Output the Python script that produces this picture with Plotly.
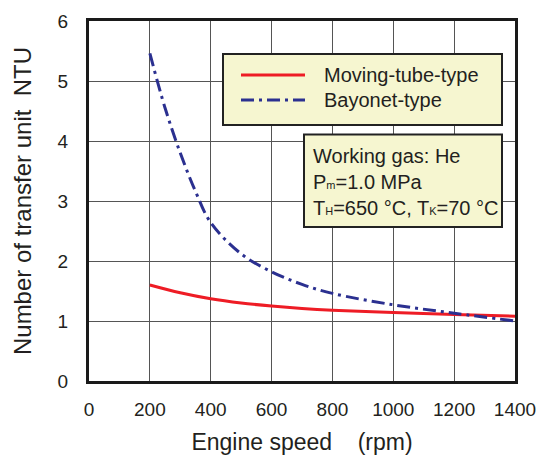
import plotly.graph_objects as go

# Engine speed (rpm) and number of transfer units for each heater type
speed_moving = [200, 300, 400, 500, 600, 700, 800, 1000, 1200, 1400]
ntu_moving = [1.60, 1.47, 1.37, 1.30, 1.25, 1.21, 1.18, 1.14, 1.11, 1.08]

speed_bayonet = [200, 250, 300, 350, 400, 500, 600, 700, 800, 1000, 1200, 1400]
ntu_bayonet = [5.46, 4.55, 3.80, 3.16, 2.64, 2.12, 1.82, 1.61, 1.46, 1.27, 1.13, 1.00]

x_ticks = [0, 200, 400, 600, 800, 1000, 1200, 1400]
y_ticks = [0, 1, 2, 3, 4, 5, 6]

series_names = ["Moving-tube-type", "Bayonet-type"]
SUB = '<span style="font-size:11px">{}</span>'
condition_lines = [
    "Working gas: He",
    "P" + SUB.format("m") + "=1.0 MPa",
    "T" + SUB.format("H") + "=650\u00a0\u00b0C, T" + SUB.format("K") + "=70\u00a0\u00b0C",
]

RED = "#ee1c25"
BLUE = "#2b3090"
DASHDOT = "13px,5px,3px,5px"
FONT = "Liberation Sans, Arial, sans-serif"
INK = "#231f20"
BOX_FILL = "#f6f6d0"

W, H = 541, 455
L, R, T, B = 89, 26, 21, 74
PW, PH = W - L - R, H - T - B


def px(x):
    return (x - L) / PW


def py(y):
    return (H - B - y) / PH


fig = go.Figure()
fig.add_trace(go.Scatter(
    x=speed_moving, y=ntu_moving, mode="lines", name=series_names[0],
    line=dict(color=RED, width=3, shape="spline", smoothing=1.0),
))
fig.add_trace(go.Scatter(
    x=speed_bayonet, y=ntu_bayonet, mode="lines", name=series_names[1],
    line=dict(color=BLUE, width=3, dash=DASHDOT, shape="spline", smoothing=1.0),
))

axis_common = dict(
    showgrid=True, gridcolor="#555555", gridwidth=1,
    showline=True, linecolor="#1a1a1a", linewidth=3, mirror=True,
    ticks="", zeroline=False,
    tickfont=dict(family=FONT, size=19, color=INK),
)

fig.update_xaxes(
    range=[0, 1400], tickvals=x_ticks, ticktext=[str(v) for v in x_ticks],
    ticklabelstandoff=9,
    title=dict(text="Engine speed\u00a0\u00a0\u00a0\u00a0(rpm)",
               font=dict(family=FONT, size=23, color=INK), standoff=16),
    **axis_common,
)
fig.update_yaxes(
    range=[0, 6], tickvals=y_ticks, ticktext=[str(v) for v in y_ticks],
    ticklabelstandoff=14,
    title=dict(text="Number of transfer unit\u00a0\u00a0NTU",
               font=dict(family=FONT, size=24, color=INK), standoff=20),
    **axis_common,
)

# Legend panel
shapes = [
    dict(type="rect", xref="paper", yref="paper",
         x0=px(223), x1=px(502), y0=py(125), y1=py(54),
         fillcolor=BOX_FILL, line=dict(color="#222222", width=2), layer="above"),
    dict(type="line", xref="paper", yref="paper",
         x0=px(241), x1=px(305), y0=py(75), y1=py(75),
         line=dict(color=RED, width=3), layer="above"),
    dict(type="line", xref="paper", yref="paper",
         x0=px(241), x1=px(305), y0=py(100), y1=py(100),
         line=dict(color=BLUE, width=3, dash=DASHDOT), layer="above"),
    # Operating conditions panel
    dict(type="rect", xref="paper", yref="paper",
         x0=px(304), x1=px(502), y0=py(227), y1=py(134.5),
         fillcolor=BOX_FILL, line=dict(color="#222222", width=2), layer="above"),
]

annotations = [
    dict(xref="paper", yref="paper", x=px(322), y=py(75), text=series_names[0],
         showarrow=False, xanchor="left", yanchor="middle",
         font=dict(family=FONT, size=20, color=INK)),
    dict(xref="paper", yref="paper", x=px(322), y=py(100), text=series_names[1],
         showarrow=False, xanchor="left", yanchor="middle",
         font=dict(family=FONT, size=20, color=INK)),
    dict(xref="paper", yref="paper", x=px(311), y=py(181.5),
         text="<br>".join(condition_lines), align="left",
         showarrow=False, xanchor="left", yanchor="middle",
         font=dict(family=FONT, size=20, color=INK)),
]

fig.update_layout(
    width=W, height=H,
    margin=dict(l=L, r=R, t=T, b=B, autoexpand=False),
    paper_bgcolor="white", plot_bgcolor="white",
    showlegend=False,
    shapes=shapes, annotations=annotations,
)

fig.write_html("out.html")
